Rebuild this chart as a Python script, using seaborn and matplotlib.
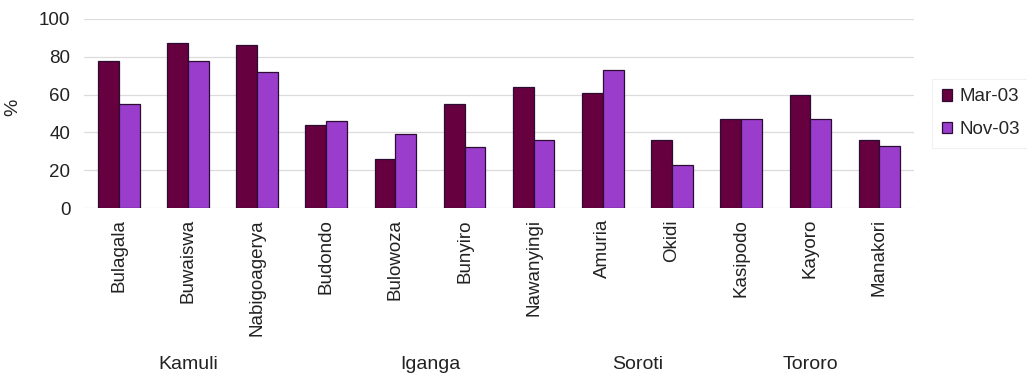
import matplotlib
matplotlib.use("Agg")
import matplotlib.pyplot as plt
import seaborn as sns
import pandas as pd

# Sub-counties and survey rounds
subcounties = ["Bulagala", "Buwaiswa", "Nabigoagerya", "Budondo", "Bulowoza", "Bunyiro",
               "Nawanyingi", "Amuria", "Okidi", "Kasipodo", "Kayoro", "Manakori"]
mar_03 = [78, 87, 86, 44, 26, 55, 64, 61, 36, 47, 60, 36]
nov_03 = [55, 78, 72, 46, 39, 32, 36, 73, 23, 47, 47, 33]
series_names = ["Mar-03", "Nov-03"]

# Districts with first and last sub-county index they span
districts = ["Kamuli", "Iganga", "Soroti", "Tororo"]
district_first = [0, 3, 7, 9]
district_last = [2, 6, 8, 11]

df = pd.DataFrame({
    "Subcounty": subcounties * 2,
    "Survey": [series_names[0]] * len(subcounties) + [series_names[1]] * len(subcounties),
    "Value": mar_03 + nov_03,
})

sns.set_theme(style="white")
plt.rcParams["font.family"] = ["Liberation Sans", "DejaVu Sans"]

fig = plt.figure(figsize=(10.27, 3.78), dpi=100)
ax = fig.add_axes([0.082, 0.4497, 0.808, 0.5003])

palette = {"Mar-03": "#66003f", "Nov-03": "#9a3ccc"}
sns.barplot(data=df, x="Subcounty", y="Value", hue="Survey", order=subcounties,
            hue_order=series_names, palette=palette, width=0.6, gap=0,
            edgecolor="#2b0d33", linewidth=0.9, saturation=1, ax=ax, zorder=3)

ax.set_ylim(0, 100)
ax.set_xlim(-0.5, len(subcounties) - 0.5)
ax.set_yticks(range(0, 101, 20))
ax.yaxis.grid(True, color="#dcdcdc", linewidth=0.9)
ax.set_axisbelow(True)
for s in ax.spines.values():
    s.set_visible(False)
ax.tick_params(axis="both", length=0, labelsize=13.5, colors="#222222")
ax.tick_params(axis="y", pad=10)
ax.tick_params(axis="x", pad=8)
plt.setp(ax.get_xticklabels(), rotation=90, va="top", ha="center")
ax.set_xlabel("")
ax.set_ylabel("%", fontsize=14, color="#222222")
ax.yaxis.set_label_coords(-0.076, 0.53)

# District labels centred beneath their sub-counties
for name, a, b in zip(districts, district_first, district_last):
    ax.text((a + b) / 2, -0.83, name, transform=ax.get_xaxis_transform(),
            ha="center", va="center", fontsize=14, color="#222222")

leg = ax.legend(loc="center left", bbox_to_anchor=(1.022, 0.50), frameon=True,
                fontsize=13.5, handlelength=0.55, handleheight=0.55, handletextpad=0.4,
                borderpad=0.5, labelspacing=0.85, fancybox=False, borderaxespad=0)
leg.get_frame().set_edgecolor("#eeeeee")
leg.get_frame().set_linewidth(0.8)

fig.savefig("out.png", dpi=100, facecolor="white")
